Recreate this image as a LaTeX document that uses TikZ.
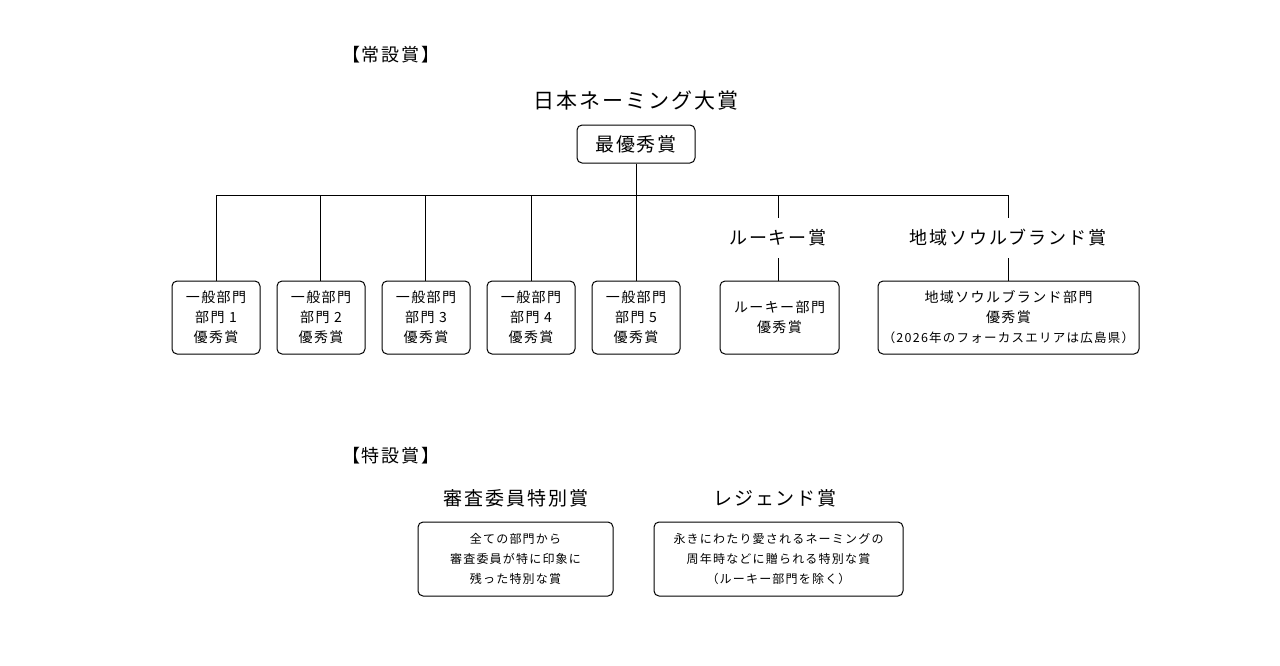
\documentclass[tikz,border=0pt]{standalone}
\usepackage{fontspec}
\setmainfont[LetterSpace=10]{Noto Sans CJK JP}
\begin{document}
\begin{tikzpicture}[x=1pt,y=-1pt,
  conn/.style={line width=1pt,black},
  box/.style={draw,line width=1pt,rounded corners=5pt,inner sep=0pt,align=center},
  smallbox/.style={box,minimum width=88pt,minimum height=73pt,font=\fontsize{14}{20}\selectfont},
  special/.style={box,minimum height=74pt,font=\fontsize{12}{20}\selectfont},
  label/.style={inner sep=0pt,minimum height=40pt,font=\fontsize{18}{22}\selectfont},
  section/.style={inner sep=0pt,anchor=west,font=\fontsize{18}{20}\selectfont},
  title/.style={inner sep=0pt,font=\fontsize{21}{24}\selectfont},
  bigtitle/.style={inner sep=0pt,font=\fontsize{19}{24}\selectfont}
]
\useasboundingbox[fill=white] (0,0) rectangle (1280,665);

\node[section] (sec1) at (342,55) {【常設賞】};
\node[title] (grand) at (636,101) {日本ネーミング大賞};
\node[box,minimum width=118pt,minimum height=38pt,font=\fontsize{19}{22}\selectfont] (top) at (636,144) {最優秀賞};

\coordinate (j1) at (216,195);
\coordinate (j2) at (320,195);
\coordinate (j3) at (425,195);
\coordinate (j4) at (531,195);
\coordinate (j5) at (636,195);
\coordinate (j6) at (778,195);
\coordinate (j7) at (1008,195);

\node[smallbox] (g1) at (216,317.5) {一般部門\\部門 1\\優秀賞};
\node[smallbox] (g2) at (321,317.5) {一般部門\\部門 2\\優秀賞};
\node[smallbox] (g3) at (426,317.5) {一般部門\\部門 3\\優秀賞};
\node[smallbox] (g4) at (531,317.5) {一般部門\\部門 4\\優秀賞};
\node[smallbox] (g5) at (636,317.5) {一般部門\\部門 5\\優秀賞};

\node[label] (rlab) at (778,238) {ルーキー賞};
\node[label] (clab) at (1008,238) {地域ソウルブランド賞};

\node[box,minimum width=119pt,minimum height=73pt,font=\fontsize{14}{20}\selectfont] (rbox) at (779.5,317.5) {ルーキー部門\\優秀賞};
\node[box,minimum width=261pt,minimum height=73pt,font=\fontsize{14}{20}\selectfont] (cbox) at (1008.5,317.5) {地域ソウルブランド部門\\優秀賞\\{\fontsize{12.5}{20}\selectfont （2026年のフォーカスエリアは広島県）}};

\draw[conn] (top.south) -- (j5);
\draw[conn] (j1) -- (j7);
\draw[conn] (j1) -- (g1.north);
\draw[conn] (j2) -- (g2.north -| j2);
\draw[conn] (j3) -- (g3.north -| j3);
\draw[conn] (j4) -- (g4.north -| j4);
\draw[conn] (j5) -- (g5.north);
\draw[conn] (j6) -- (rlab.north);
\draw[conn] (j7) -- (clab.north);
\draw[conn] (rlab.south) -- (rbox.north -| rlab.south);
\draw[conn] (clab.south) -- (cbox.north -| clab.south);

\node[section] (sec2) at (342,456) {【特設賞】};
\node[bigtitle] (jury) at (516,498) {審査委員特別賞};
\node[bigtitle] (legend) at (775,498) {レジェンド賞};
\node[special,minimum width=195pt] (jbox) at (515.5,559) {全ての部門から\\審査委員が特に印象に\\残った特別な賞};
\node[special,minimum width=249pt] (lbox) at (778.5,559) {永きにわたり愛されるネーミングの\\周年時などに贈られる特別な賞\\（ルーキー部門を除く）};
\end{tikzpicture}
\end{document}
